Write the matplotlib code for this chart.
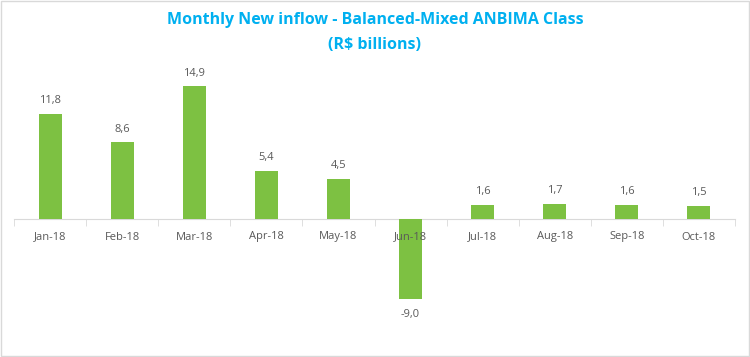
import numpy as np
import matplotlib.pyplot as plt
from matplotlib.patches import Rectangle

months = ["Jan-18", "Feb-18", "Mar-18", "Apr-18", "May-18",
          "Jun-18", "Jul-18", "Aug-18", "Sep-18", "Oct-18"]
inflow = [11.8, 8.6, 14.9, 5.4, 4.5, -9.0, 1.6, 1.7, 1.6, 1.5]

plt.rcParams['font.family'] = ['Open Sans', 'DejaVu Sans']

fig = plt.figure(figsize=(7.5, 3.57), dpi=100)
ax = fig.add_axes([14/750, 1-308/357, 721/750, 231.4/357])

x = np.arange(len(months))
bars = ax.bar(x, inflow, width=0.32, color="#7DC142", zorder=2)

for xi, v in zip(x, inflow):
    off = 13 if v >= 0 else -15
    ax.annotate(f"{v:.1f}".replace(".", ","), (xi, v), xytext=(0, off),
                textcoords="offset pixels", ha="center", va="center",
                fontsize=8, color="#595959")

ax.set_xlim(-0.5, len(months) - 0.5)
ax.set_ylim(-10, 16)
ax.set_yticks([])
ax.set_axisbelow(False)
for s in ["top", "right", "left"]:
    ax.spines[s].set_visible(False)
ax.spines["bottom"].set_position(("data", 0))
ax.spines["bottom"].set_color("#D9D9D9")
ax.spines["bottom"].set_zorder(1)
ax.set_xticks(x)
ax.set_xticklabels(months, fontsize=8, color="#595959")
ax.tick_params(axis="x", which="major", length=0, pad=9)
ax.set_xticks(np.arange(len(months) + 1) - 0.5, minor=True)
ax.tick_params(axis="x", which="minor", length=5, color="#D9D9D9", direction="out")

fig.text(0.5, 1 - 20/357, "Monthly New inflow - Balanced-Mixed ANBIMA Class",
         ha="center", va="center", fontsize=11.5, fontweight="bold", color="#00B0F0")
fig.text(0.5, 1 - 45/357, "(R$ billions)",
         ha="center", va="center", fontsize=11.5, fontweight="bold", color="#00B0F0")

fig.patches.append(Rectangle((0.001, 0.002), 0.997, 0.995, transform=fig.transFigure,
                             fill=False, edgecolor="#D9D9D9", linewidth=1))

fig.savefig("out.png", dpi=100)
